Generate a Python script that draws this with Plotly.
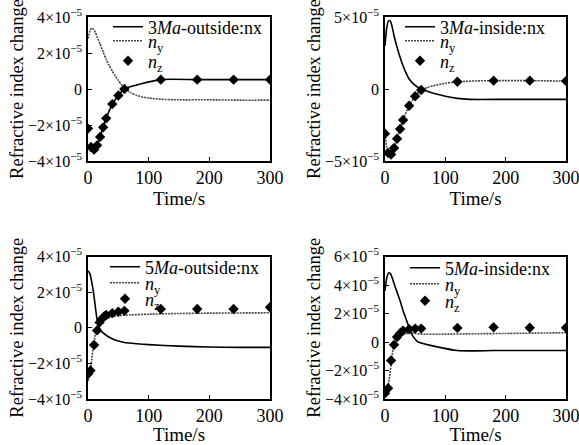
import plotly.graph_objects as go

SCALE = 1e-5  # all series values below are in units of 1e-5

# ---------- Panel 1: 3Ma-outside ----------
p1_nx_t = [0, 5, 10, 15, 20, 25, 30, 40, 50, 60, 120, 180, 240, 300]
p1_nx_v = [-3.2, -3.25, -3.37, -3.1, -2.65, -2.12, -1.62, -0.85, -0.36, 0.0, 0.52, 0.52, 0.52, 0.52]
p1_ny_t = [0, 3, 6, 9, 12, 15, 20, 25, 30, 35, 40, 45, 50, 55, 60, 70, 80, 90, 100, 120, 150, 200, 250, 300]
p1_ny_v = [2.8, 3.2, 3.38, 3.33, 3.15, 2.9, 2.5, 2.05, 1.65, 1.3, 1.0, 0.72, 0.48, 0.25, 0.05, -0.2, -0.35, -0.45, -0.5, -0.57, -0.6, -0.6, -0.62, -0.62]
p1_nz_t = [0, 5, 10, 15, 20, 25, 30, 40, 50, 60, 120, 180, 240, 300]
p1_nz_v = [-2.2, -3.22, -3.37, -3.13, -2.66, -2.13, -1.63, -0.84, -0.36, 0.0, 0.52, 0.52, 0.52, 0.52]

# ---------- Panel 2: 3Ma-inside ----------
p2_nx_t = [0, 3, 6, 9, 12, 15, 20, 25, 30, 35, 40, 50, 60, 70, 80, 100, 120, 140, 200, 300]
p2_nx_v = [3.0, 4.3, 4.75, 4.7, 4.3, 3.7, 2.9, 2.2, 1.6, 1.1, 0.7, 0.25, 0.0, -0.15, -0.3, -0.5, -0.65, -0.72, -0.72, -0.72]
p2_ny_t = [0, 5, 10, 15, 20, 25, 30, 40, 50, 60, 70, 80, 100, 120, 150, 180, 240, 300]
p2_ny_v = [-3.1, -4.44, -4.55, -4.1, -3.46, -2.78, -2.15, -1.16, -0.5, -0.07, 0.1, 0.22, 0.4, 0.5, 0.56, 0.58, 0.58, 0.55]
p2_nz_t = [0, 5, 10, 15, 20, 25, 30, 40, 50, 60, 120, 180, 240, 300]
p2_nz_v = [-3.1, -4.44, -4.55, -4.1, -3.46, -2.78, -2.15, -1.16, -0.5, -0.07, 0.5, 0.58, 0.58, 0.55]

# ---------- Panel 3: 5Ma-outside ----------
p3_nx_t = [0, 3, 6, 9, 12, 15, 18, 22, 30, 40, 50, 60, 80, 100, 150, 200, 250, 300]
p3_nx_v = [3.2, 3.05, 2.6, 2.0, 1.2, 0.45, 0.05, -0.2, -0.42, -0.62, -0.75, -0.83, -0.9, -0.95, -1.03, -1.08, -1.1, -1.1]
p3_ny_t = [0, 3, 6, 9, 12, 15, 20, 25, 30, 40, 50, 70, 100, 150, 200, 300]
p3_ny_v = [-3.0, -2.5, -1.8, -1.0, -0.4, -0.05, 0.2, 0.38, 0.5, 0.62, 0.68, 0.72, 0.76, 0.8, 0.82, 0.84]
p3_nz_t = [0, 4, 10, 15, 19, 23, 27, 30, 40, 50, 60, 120, 180, 240, 300]
p3_nz_v = [-2.6, -2.4, -0.97, -0.15, 0.3, 0.5, 0.65, 0.72, 0.82, 0.9, 0.95, 1.05, 1.05, 1.05, 1.15]

# ---------- Panel 4: 5Ma-inside ----------
p4_nx_t = [0, 3, 6, 9, 12, 15, 20, 25, 30, 35, 40, 45, 50, 55, 120, 180, 240, 300]
p4_nx_v = [3.6, 4.5, 4.85, 4.8, 4.5, 4.1, 3.5, 2.9, 2.2, 1.6, 1.0, 0.5, 0.2, 0.0, -0.6, -0.6, -0.6, -0.6]
p4_ny_t = [0, 4, 7, 10, 13, 16, 20, 25, 30, 40, 50, 60, 100, 150, 200, 300]
p4_ny_v = [-3.8, -3.4, -2.6, -1.6, -0.6, -0.1, 0.15, 0.38, 0.52, 0.65, 0.6, 0.55, 0.55, 0.58, 0.6, 0.65]
p4_nz_t = [0, 5, 10, 15, 20, 25, 30, 40, 50, 60, 120, 180, 240, 300]
p4_nz_v = [-3.6, -3.25, -1.3, -0.2, 0.35, 0.62, 0.8, 0.89, 0.94, 0.94, 0.99, 1.03, 1.0, 1.0]

panel_names = ["3<i>Ma</i>-outside:nx", "3<i>Ma</i>-inside:nx",
               "5<i>Ma</i>-outside:nx", "5<i>Ma</i>-inside:nx"]
ny_name = "<i>n</i><sub>y</sub>"
nz_name = "<i>n</i><sub>z</sub>"

y_ticks = [[-4, -2, 0, 2, 4], [-5, 0, 5], [-4, -2, 0, 2, 4], [-4, -2, 0, 2, 4, 6]]
y_ranges = [[-4, 4], [-5, 5], [-4, 4], [-4, 6]]
x_ticks = [0, 100, 200, 300]
x_title = "Time/s"
y_title = "Refractive index change"

W, H = 579, 445
FONT = "Liberation Serif"

panels = [
    (p1_nx_t, p1_nx_v, p1_ny_t, p1_ny_v, p1_nz_t, p1_nz_v),
    (p2_nx_t, p2_nx_v, p2_ny_t, p2_ny_v, p2_nz_t, p2_nz_v),
    (p3_nx_t, p3_nx_v, p3_ny_t, p3_ny_v, p3_nz_t, p3_nz_v),
    (p4_nx_t, p4_nx_v, p4_ny_t, p4_ny_v, p4_nz_t, p4_nz_v),
]

# pixel boxes of each plot area (left, right, top, bottom)
boxes = [(88, 270, 17, 161), (385, 566, 17, 161),
         (88, 270, 256.5, 399), (385, 566, 256.5, 399)]
# legend placement per panel: left x of legend, row centres (px)
legend_pos = [(108, [27, 41, 61]), (400, [27, 41, 61]),
              (105, [267, 283, 299]), (405, [268, 284, 301])]


def tick_label(v):
    if v == 0:
        return "0"
    s = "\u2212" if v < 0 else ""
    return f"{s}{abs(v)}\u00d710<sup>\u22125</sup>"


fig = go.Figure()
layout = dict(
    width=W, height=H, margin=dict(l=0, r=0, t=0, b=0, autoexpand=False),
    paper_bgcolor="white", plot_bgcolor="white",
    font=dict(family=FONT, size=17, color="black"),
    showlegend=True,
)

for i, (nxt, nxv, nyt, nyv, nzt, nzv) in enumerate(panels):
    k = "" if i == 0 else str(i + 1)
    xa, ya = "x" + k, "y" + k
    l, r, t, b = boxes[i]
    lx, rows = legend_pos[i]
    lgs = []
    for j in range(3):
        idx = i * 3 + j + 1
        name = "legend" if idx == 1 else f"legend{idx}"
        lgs.append(name)
        layout[name] = dict(x=lx / W, xanchor="left", y=1 - rows[j] / H, yanchor="middle",
                            bgcolor="rgba(0,0,0,0)", borderwidth=0, itemwidth=30,
                            font=dict(family=FONT, size=18, color="black"))
    fig.add_trace(go.Scatter(x=nxt, y=[v * SCALE for v in nxv], mode="lines",
                             line=dict(color="black", width=1.6, shape="spline", smoothing=0.6),
                             name=panel_names[i], xaxis=xa, yaxis=ya, legend=lgs[0]))
    fig.add_trace(go.Scatter(x=nyt, y=[v * SCALE for v in nyv], mode="lines",
                             line=dict(color="#444", width=1.6, dash="2px,1px", shape="spline", smoothing=0.6),
                             name=ny_name, xaxis=xa, yaxis=ya, legend=lgs[1]))
    fig.add_trace(go.Scatter(x=nzt, y=[v * SCALE for v in nzv], mode="markers",
                             marker=dict(symbol="diamond", size=8, color="black"),
                             name=nz_name, xaxis=xa, yaxis=ya, legend=lgs[2]))
    axis_common = dict(showline=True, linecolor="black", linewidth=1.5, mirror=True,
                       ticks="inside", ticklen=4, tickcolor="black", showgrid=False,
                       zeroline=False, automargin=False, ticklabeloverflow="allow")
    layout["xaxis" + k] = dict(
        axis_common, domain=[l / W, r / W], range=[0, 300], anchor=ya,
        tickvals=x_ticks, ticktext=[str(v) for v in x_ticks], ticklabelstandoff=0,
        tickfont=dict(family=FONT, size=18, color="black"),
        title=dict(text=x_title, font=dict(family=FONT, size=19), standoff=0))
    layout["yaxis" + k] = dict(
        axis_common, domain=[1 - b / H, 1 - t / H],
        range=[y_ranges[i][0] * SCALE, y_ranges[i][1] * SCALE], anchor=xa,
        tickvals=[v * SCALE for v in y_ticks[i]], ticktext=[tick_label(v) for v in y_ticks[i]],
        ticklabelstandoff=1,
        tickfont=dict(family=FONT, size=16, color="black"),
        title=dict(text=y_title, font=dict(family=FONT, size=18.5), standoff=0))

fig.update_layout(**layout)
fig.write_html("out.html", config={"displayModeBar": False},
               post_script="document.body.style.margin='0';document.body.style.overflow='hidden';")
